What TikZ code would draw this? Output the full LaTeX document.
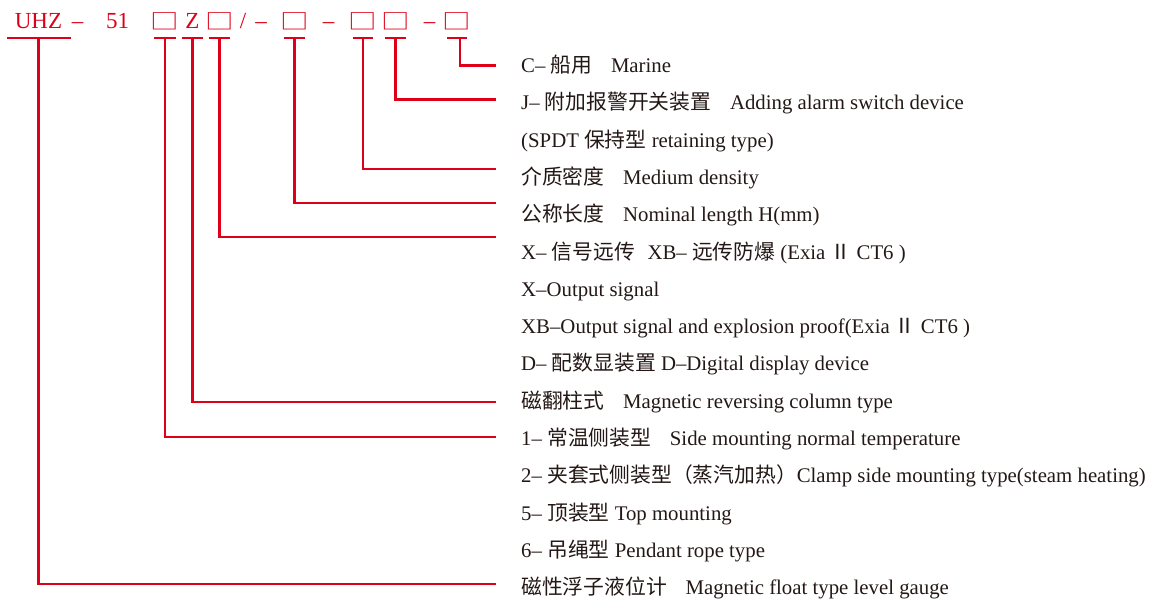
\documentclass[tikz,border=0pt]{standalone}
\usepackage{fontspec}
\setmainfont{Liberation Serif}
\newfontfamily\cjkf{Noto Sans CJK SC}
\definecolor{hred}{RGB}{221,0,24}
\definecolor{ink}{RGB}{35,24,21}
\newcommand{\zhs}[1]{{\cjkf #1}}
\begin{document}
\begin{tikzpicture}[x=1pt,y=-1pt,
  conn/.style={draw=hred,line width=2.6pt},
  hdr/.style={text=hred,inner sep=0pt,anchor=base,font=\fontsize{23}{23}\selectfont},
  sqr/.style={text=hred,inner sep=0pt,anchor=center,yscale=0.76,font=\fontsize{28.5}{28.5}\selectfont\cjkf},
  desc/.style={text=ink,inner sep=0pt,anchor=base west,font=\fontsize{20.8}{24}\selectfont}]
\useasboundingbox (0,0) rectangle (1150,602);

% header code
\node[hdr] (u)   at (38.5,28.3) {UHZ};
\node[hdr] (d1)  at (77.5,28.3) {–};
\node[hdr] (n51) at (117.5,28.3) {51};
\node[sqr] (s1)  at (165,21) {□};
\node[hdr] (z)   at (192.5,28.3) {Z};
\node[sqr] (s3)  at (219.5,21) {□};
\node[hdr] (sl)  at (243,28.3) {/};
\node[hdr] (d2)  at (261,28.3) {–};
\node[sqr] (s4)  at (294.5,21) {□};
\node[hdr] (d3)  at (328.5,28.3) {–};
\node[sqr] (s5)  at (363,21) {□};
\node[sqr] (s6)  at (395.5,21) {□};
\node[hdr] (d4)  at (429.5,28.3) {–};
\node[sqr] (s7)  at (457,21) {□};

% descriptions
\node[desc] (r0)  at (521,72.5)  {C– \zhs{船用}\hspace{0.9em}Marine};
\node[desc] (r1)  at (521,109.8) {J– \zhs{附加报警开关装置}\hspace{0.9em}Adding alarm switch device};
\node[desc] (r2)  at (521,147.1) {(SPDT \zhs{保持型} retaining type)};
\node[desc] (r3)  at (521,184.4) {\zhs{介质密度}\hspace{0.9em}Medium density};
\node[desc] (r4)  at (521,221.7) {\zhs{公称长度}\hspace{0.9em}Nominal length H(mm)};
\node[desc] (r5)  at (521,259.0) {X– \zhs{信号远传}\hspace{0.6em}XB– \zhs{远传防爆} (Exia \zhs{Ⅱ} CT6 )};
\node[desc] (r6)  at (521,296.2) {X–Output signal};
\node[desc] (r7)  at (521,333.5) {XB–Output signal and explosion proof(Exia \zhs{Ⅱ} CT6 )};
\node[desc] (r8)  at (521,370.8) {D– \zhs{配数显装置} D–Digital display device};
\node[desc] (r9)  at (521,408.1) {\zhs{磁翻柱式}\hspace{0.9em}Magnetic reversing column type};
\node[desc] (r10) at (521,445.4) {1– \zhs{常温侧装型}\hspace{0.9em}Side mounting normal temperature};
\node[desc] (r11) at (521,482.7) {2– \zhs{夹套式侧装型（蒸汽加热）}Clamp side mounting type(steam heating)};
\node[desc] (r12) at (521,520.0) {5– \zhs{顶装型} Top mounting};
\node[desc] (r13) at (521,557.3) {6– \zhs{吊绳型} Pendant rope type};
\node[desc] (r14) at (521,594.6) {\zhs{磁性浮子液位计}\hspace{0.9em}Magnetic float type level gauge};

% connector ends
\coordinate (e0)  at (496,65.7);
\coordinate (e1)  at (496,99.2);
\coordinate (e3)  at (496,169);
\coordinate (e4)  at (496,203);
\coordinate (e5)  at (496,237);
\coordinate (e9)  at (496,402);
\coordinate (e10) at (496,437);
\coordinate (e14) at (496,584);

% connectors: bar under the header item, then down and across to its row
\draw[conn] (7,38) -- (71,38);     \draw[conn] (u.base |- 0,38)  |- (e14);
\draw[conn] (154,38) -- (176,38);  \draw[conn] (s1.center |- 0,38) |- (e10);
\draw[conn] (182,38) -- (203,38);  \draw[conn] (z.base |- 0,38)  |- (e9);
\draw[conn] (209,38) -- (230,38);  \draw[conn] (s3.center |- 0,38) |- (e5);
\draw[conn] (284,38) -- (305,38);  \draw[conn] (s4.center |- 0,38) |- (e4);
\draw[conn] (353,38) -- (373,38);  \draw[conn] (s5.center |- 0,38) |- (e3);
\draw[conn] (385,38) -- (406,38);  \draw[conn] (s6.center |- 0,38) |- (e1);
\draw[conn] (447,38) -- (467,38);  \draw[conn] ([xshift=3pt]s7.center |- 0,38) |- (e0);
\end{tikzpicture}
\end{document}
